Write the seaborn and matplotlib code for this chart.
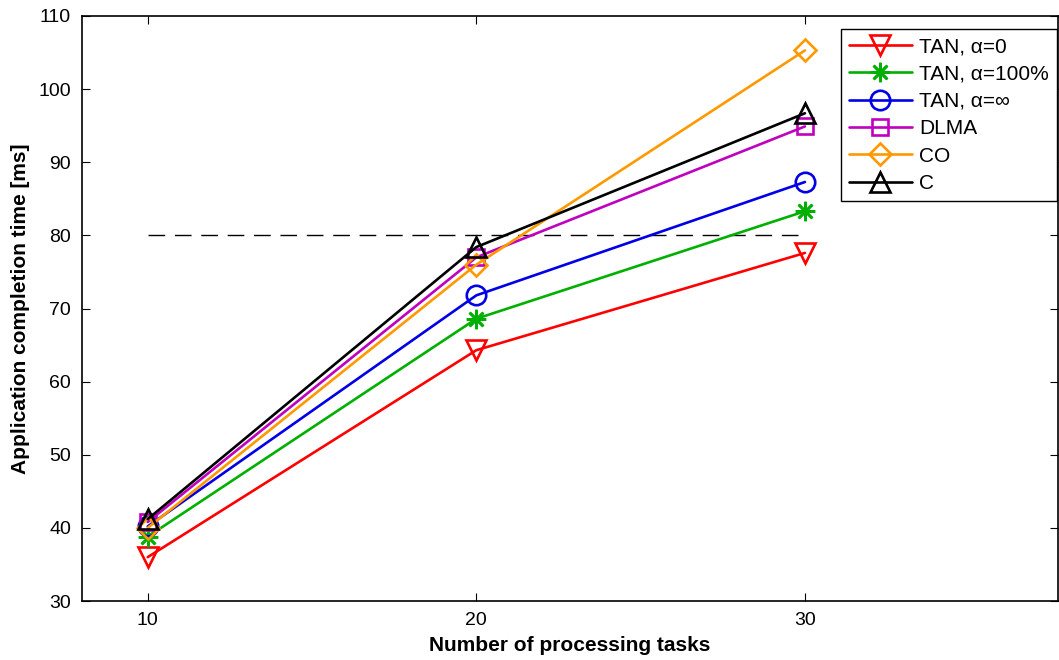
import pandas as pd
import matplotlib.pyplot as plt
import seaborn as sns

# ---------------------------------------------------------
# DATA
# ---------------------------------------------------------

tasks = [10, 20, 30]

tan_alpha0 = [36.0, 64.3, 77.6]
tan_alpha100 = [38.8, 68.6, 83.3]
tan_alphainf = [40.2, 71.8, 87.3]
dlma = [40.8, 77.0, 94.9]
co = [40.0, 76.0, 105.3]
c = [41.2, 78.4, 96.7]

series_names = ["TAN, α=0", "TAN, α=100%", "TAN, α=∞", "DLMA", "CO", "C"]
series_values = [tan_alpha0, tan_alpha100, tan_alphainf, dlma, co, c]

threshold_x = [10, 30]
threshold_y = [80, 80]

# ---------------------------------------------------------
# STYLE SETTINGS
# ---------------------------------------------------------

sns.set_style("ticks")
plt.rcParams["font.family"] = ["Liberation Sans", "DejaVu Sans"]
plt.rcParams["text.color"] = "black"
plt.rcParams["axes.labelcolor"] = "black"
plt.rcParams["xtick.color"] = "black"
plt.rcParams["ytick.color"] = "black"

colors = ["#ff0000", "#00b000", "#0000e6", "#bf00bf", "#ff9900", "#000000"]
markers = ["v", (8, 2, 0), "o", "s", "D", "^"]
msizes = [15, 14, 14, 11, 11, 15]

df = pd.DataFrame({
    "tasks": tasks * len(series_names),
    "time": [v for vals in series_values for v in vals],
    "series": [n for n in series_names for _ in tasks],
})

fig = plt.figure(figsize=(10.59, 6.6), dpi=100)
ax = fig.add_axes([82 / 1059, 59 / 660, 976 / 1059, 585 / 660])

# dashed reference line
ax.plot(threshold_x, threshold_y, color="black", linestyle=(0, (12, 7)), linewidth=1.0)

for name, col, mk, ms in zip(series_names, colors, markers, msizes):
    sub = df[df["series"] == name]
    sns.lineplot(
        data=sub,
        x="tasks",
        y="time",
        ax=ax,
        color=col,
        linewidth=1.9,
        marker=mk,
        markersize=ms,
        markerfacecolor="none",
        markeredgecolor=col,
        markeredgewidth=1.9,
        label=name,
    )

ax.set_xlim(8, 37.7)
ax.set_ylim(30, 110)
ax.set_xticks(tasks)
ax.set_yticks(range(30, 111, 10))

ax.tick_params(direction="in", length=6, width=0.8, top=True, right=True,
               labelsize=14, pad=8, colors="black")
for sp in ax.spines.values():
    sp.set_linewidth(1.2)
    sp.set_color("black")

ax.set_xlabel("Number of processing tasks", fontsize=15, fontweight="bold", labelpad=5)
ax.set_ylabel("Application completion time [ms]", fontsize=15, fontweight="bold", labelpad=6)

leg = ax.legend(
    loc="upper right",
    bbox_to_anchor=(0.999, 0.978),
    borderaxespad=0,
    fontsize=15,
    frameon=True,
    fancybox=False,
    edgecolor="black",
    framealpha=1,
    handlelength=3.0,
    handletextpad=0.35,
    labelspacing=0.4,
    borderpad=0.4,
)
leg.get_frame().set_linewidth(1.0)

fig.savefig("out.png", dpi=100)
